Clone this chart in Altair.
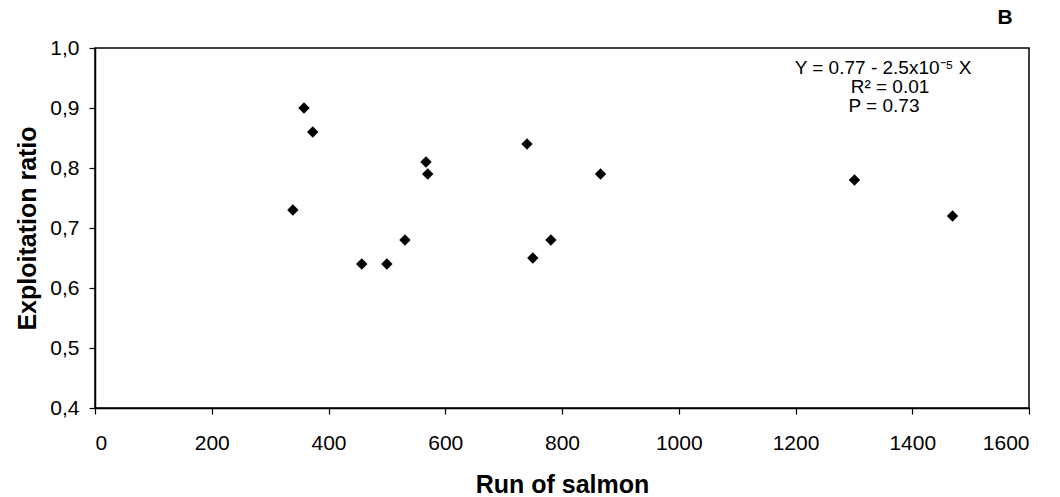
import altair as alt
import pandas as pd

run_of_salmon = [339, 358, 373, 457, 500, 531, 567, 570, 740, 750, 781, 866, 1301, 1469]
exploitation = [0.73, 0.90, 0.86, 0.64, 0.64, 0.68, 0.81, 0.79, 0.84, 0.65, 0.68, 0.79, 0.78, 0.72]
x_ticks = [0, 200, 400, 600, 800, 1000, 1200, 1400, 1600]
y_ticks = [0.4, 0.5, 0.6, 0.7, 0.8, 0.9, 1.0]
annotation_lines = ["Y = 0.77 - 2.5x10\u207b\u2075 X", "R\u00b2 = 0.01", "P = 0.73"]

df = pd.DataFrame({"run": run_of_salmon, "ratio": exploitation})

FONT = "Liberation Sans"
LEFT, TOP = 95, 48
W, H = 934, 360

points = alt.Chart(df).mark_point(shape="diamond", filled=True, color="black", size=130, opacity=1).encode(
    x=alt.X("run:Q", scale=alt.Scale(domain=[0, 1600], nice=False),
            axis=alt.Axis(values=x_ticks, format="d", title="Run of salmon", grid=False,
                          labelFontSize=21, titleFontSize=25, titleFontWeight="bold",
                          titlePadding=19, labelPadding=18, tickSize=6)),
    y=alt.Y("ratio:Q", scale=alt.Scale(domain=[0.4, 1.0], nice=False, zero=False),
            axis=alt.Axis(values=y_ticks, title="Exploitation ratio", grid=False,
                          labelExpr="replace(format(datum.value, '.1f'), '.', ',')",
                          labelFontSize=21, titleFontSize=25, titleFontWeight="bold",
                          titlePadding=9, labelPadding=10, tickSize=6)),
)

# annotation lines placed in pixel space (centre x, centre y)
lines = []
for t, cx, cy in zip(annotation_lines, [883, 890, 884], [68, 87, 106]):
    lines.append(alt.Chart(pd.DataFrame({"t": [t]})).mark_text(
        fontSize=19, font=FONT, color="black", align="center", baseline="middle").encode(
        x=alt.value(cx - LEFT), y=alt.value(cy - TOP), text="t:N"))

label_b = alt.Chart(pd.DataFrame({"t": ["B"]})).mark_text(
    fontSize=21, font=FONT, fontWeight="bold", color="black", align="center", baseline="middle").encode(
    x=alt.value(1005 - LEFT), y=alt.value(18 - TOP), text="t:N")

chart = alt.layer(points, *lines, label_b).properties(
    width=W, height=H,
    padding={"left": LEFT, "top": TOP, "right": 1060 - LEFT - W, "bottom": 497 - TOP - H},
    autosize="none",
).configure(font=FONT, background="white").configure_view(
    stroke="black", strokeWidth=1.5
).configure_axis(
    domainColor="black", tickColor="black", labelColor="black", titleColor="black",
    domainWidth=1.5, tickWidth=1.2, labelFont=FONT, titleFont=FONT
)

chart.save("out.html", embed_options={"renderer": "svg", "actions": False})
